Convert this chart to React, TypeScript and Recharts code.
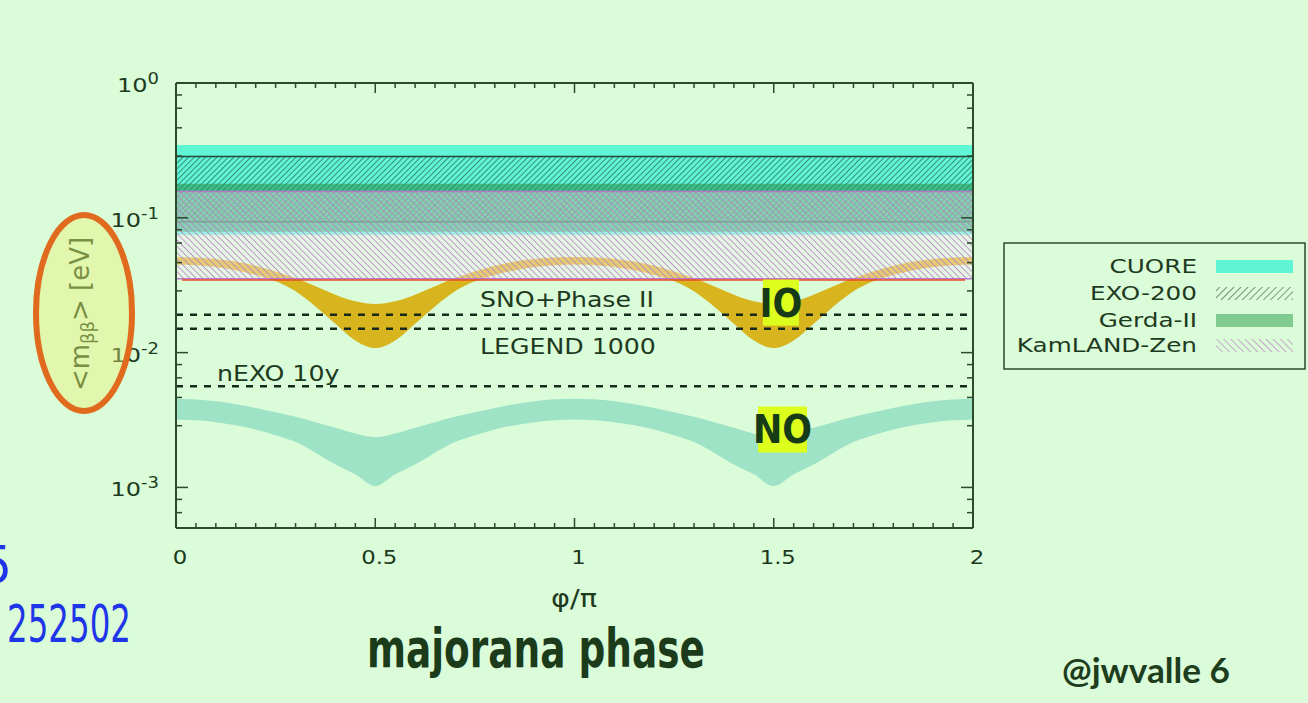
import React from "react";
import {
  ComposedChart,
  Area,
  XAxis,
  YAxis,
  ReferenceArea,
  ReferenceLine,
  ReferenceDot,
} from "recharts";

const BG = "#dafcd8";
const INK = "#1e3a1e";
const AXIS = "#2c4a2c";
const FONT = "'DejaVu Sans', Verdana, sans-serif";
const NARROW = "'Liberation Sans Narrow', 'DejaVu Sans Condensed', sans-serif";
const STRETCH = 1.2;

// Majorana phase φ/π
const phi = [
  0, 0.1, 0.2, 0.25, 0.3, 0.35, 0.4, 0.45, 0.5, 0.55, 0.6, 0.65, 0.7, 0.75, 0.8, 0.9, 1,
  1.1, 1.2, 1.25, 1.3, 1.35, 1.4, 1.45, 1.5, 1.55, 1.6, 1.65, 1.7, 1.75, 1.8, 1.9, 2,
];

// inverted ordering band [eV]
const ioHigh = [
  0.0511, 0.0494, 0.0441, 0.04, 0.0357, 0.031, 0.0269, 0.024, 0.0229, 0.024, 0.0269, 0.031,
  0.0357, 0.04, 0.0441, 0.0494, 0.0511, 0.0494, 0.0441, 0.04, 0.0357, 0.031, 0.0269, 0.024,
  0.0229, 0.024, 0.0269, 0.031, 0.0357, 0.04, 0.0441, 0.0494, 0.0511,
];
const ioLow = [
  0.0451, 0.0431, 0.0376, 0.0338, 0.0285, 0.022, 0.0164, 0.0123, 0.0108, 0.0123, 0.0164, 0.022,
  0.0285, 0.0338, 0.0376, 0.0431, 0.0451, 0.0431, 0.0376, 0.0338, 0.0285, 0.022, 0.0164, 0.0123,
  0.0108, 0.0123, 0.0164, 0.022, 0.0285, 0.0338, 0.0376, 0.0431, 0.0451,
];

// normal ordering band [eV]
const noHigh = [
  0.00454, 0.00436, 0.00389, 0.00361, 0.00334, 0.00305, 0.00277, 0.00251, 0.00236, 0.00251,
  0.00277, 0.00305, 0.00334, 0.00361, 0.00389, 0.00436, 0.00454, 0.00436, 0.00389, 0.00361,
  0.00334, 0.00305, 0.00277, 0.00251, 0.00236, 0.00251, 0.00277, 0.00305, 0.00334, 0.00361,
  0.00389, 0.00436, 0.00454,
];
const noLow = [
  0.00319, 0.00305, 0.00269, 0.00244, 0.00217, 0.00181, 0.00148, 0.00125, 0.00102, 0.00125,
  0.00148, 0.00181, 0.00217, 0.00244, 0.00269, 0.00305, 0.00319, 0.00305, 0.00269, 0.00244,
  0.00217, 0.00181, 0.00148, 0.00125, 0.00102, 0.00125, 0.00148, 0.00181, 0.00217, 0.00244,
  0.00269, 0.00305, 0.00319,
];

// current limits
const experiments = ["CUORE", "EXO-200", "Gerda-II", "KamLAND-Zen"];
const bandLow = [0.0748, 0.0934, 0.0788, 0.0353];
const bandHigh = [0.347, 0.2845, 0.1786, 0.1566];
const redLine = 0.0345;

// future sensitivities
const futureLabels = ["SNO+Phase II", "LEGEND 1000", "nEXO 10y"];
const futureValues = [0.0191, 0.015, 0.00563];

const tags = ["IO", "NO"];
const tagPhi = [1.518, 1.522];
const tagValue = [0.0235, 0.00269];

// axes
const xMajor = [0, 0.5, 1, 1.5, 2];
const xLabels = ["0", "0.5", "1", "1.5", "2"];
const xTicks = Array.from({ length: 41 }, (_, i) => Math.round(i * 5) / 100);
const yMajor = [1, 0.1, 0.01, 0.001];
const yExponents = ["0", "-1", "-2", "-3"];
const yMinorFactors = [0.815, 0.65, 0.465, 0.287];
const yTicks = [
  ...yMajor,
  ...yMajor.flatMap((d) => yMinorFactors.map((f) => d * f)).filter((v) => v >= 0.0005),
];

// styling of the limit bands
const bandFill = ["#5ff5d5", "url(#hatchExo)", "rgba(40,150,85,0.6)", "url(#hatchKam)"];
const bandStroke = ["none", "#22483a", "none", "#b77ac8"];
const legendFill = ["#5ff5d5", "url(#hatchExoL)", "#80cc90", "url(#hatchKamL)"];

const XTick = ({ x, y, payload, side }: any) => {
  const k = xMajor.indexOf(payload.value);
  const len = k >= 0 ? 10 : 5;
  const dir = side === "top" ? 1 : -1;
  return (
    <g>
      <line x1={x} x2={x} y1={y} y2={y + dir * len} stroke={AXIS} strokeWidth={1.5} />
      {side === "bottom" && k >= 0 && (
        <text
          transform={`translate(${x + 4},${y + 36}) scale(${STRETCH},1)`}
          textAnchor="middle"
          fontFamily={FONT}
          fontSize={19}
          fill={INK}
        >
          {xLabels[k]}
        </text>
      )}
    </g>
  );
};

const YTick = ({ x, y, payload, side }: any) => {
  const k = yMajor.indexOf(payload.value);
  const len = k >= 0 ? 12 : 6;
  const dir = side === "left" ? 1 : -1;
  return (
    <g>
      <line x1={x} x2={x + dir * len} y1={y} y2={y} stroke={AXIS} strokeWidth={1.5} />
      {side === "left" && k >= 0 && (
        <text
          transform={`translate(${x - 17},${y + 9}) scale(${STRETCH},1)`}
          textAnchor="end"
          fontFamily={FONT}
          fontSize={20}
          fill={INK}
        >
          10
          <tspan dy={-8} fontSize={15}>
            {yExponents[k]}
          </tspan>
        </text>
      )}
    </g>
  );
};

const FutureLabel = ({ viewBox, text, dx, dy }: any) => (
  <text
    transform={`translate(${viewBox.x + dx},${viewBox.y + dy}) scale(${STRETCH},1)`}
    fontFamily={FONT}
    fontSize={21}
    fill={INK}
  >
    {text}
  </text>
);

const Tag = ({ cx, cy, text }: any) => {
  const w = text === "IO" ? 36 : 49;
  return (
    <g>
      <rect x={cx - w / 2} y={cy - 23} width={w} height={46} fill="#dcff1e" />
      <text
        x={cx}
        y={cy + 14}
        textAnchor="middle"
        fontFamily={NARROW}
        fontWeight="bold"
        fontSize={39}
        fill="#173a17"
      >
        {text}
      </text>
    </g>
  );
};

export default function App() {
  const data = phi.map((p, i) => ({
    phi: p,
    io: [ioLow[i], ioHigh[i]],
    no: [noLow[i], noHigh[i]],
  }));
  const labelDx = [304, 304, 41];
  const labelDy = [-8, 25, -5];
  const legendY = [273, 300, 327, 352];

  return (
    <div
      style={{
        position: "absolute",
        left: 0,
        top: 0,
        width: 1308,
        height: 703,
        background: BG,
        overflow: "hidden",
      }}
    >
      <svg width={0} height={0} style={{ position: "absolute" }}>
        <defs>
          <pattern id="hatchExo" patternUnits="userSpaceOnUse" width={4} height={4} patternTransform="rotate(45)">
            <line x1={0} y1={0} x2={0} y2={4} stroke="#1f4a38" strokeWidth={1.2} />
          </pattern>
          <pattern id="hatchKam" patternUnits="userSpaceOnUse" width={4.5} height={4.5} patternTransform="rotate(-45)">
            <rect width={4.5} height={4.5} fill="rgba(242,236,242,0.4)" />
            <line x1={0} y1={0} x2={0} y2={4.5} stroke="#b87cc4" strokeWidth={1.5} />
          </pattern>
          <pattern id="hatchExoL" patternUnits="userSpaceOnUse" width={5} height={5} patternTransform="rotate(45)">
            <line x1={0} y1={0} x2={0} y2={5} stroke="#4a5a4a" strokeWidth={1.3} />
          </pattern>
          <pattern id="hatchKamL" patternUnits="userSpaceOnUse" width={5} height={5} patternTransform="rotate(-45)">
            <line x1={0} y1={0} x2={0} y2={5} stroke="#c08ac8" strokeWidth={1.5} />
          </pattern>
        </defs>
      </svg>

      <div style={{ position: "absolute", left: 0, top: 0 }}>
        <ComposedChart
          width={1308}
          height={703}
          data={data}
          margin={{ top: 73, right: 325, bottom: 135, left: 116 }}
        >
          <XAxis
            dataKey="phi"
            type="number"
            domain={[0, 2]}
            allowDataOverflow
            ticks={xTicks}
            interval={0}
            tick={<XTick side="bottom" />}
            tickLine={false}
            tickSize={0}
            tickMargin={0}
            height={40}
            axisLine={{ stroke: AXIS, strokeWidth: 2 }}
          />
          <XAxis
            xAxisId="t"
            dataKey="phi"
            orientation="top"
            type="number"
            domain={[0, 2]}
            allowDataOverflow
            ticks={xTicks}
            interval={0}
            tick={<XTick side="top" />}
            tickLine={false}
            tickSize={0}
            tickMargin={0}
            height={10}
            axisLine={{ stroke: AXIS, strokeWidth: 2 }}
          />
          <YAxis
            type="number"
            scale="log"
            domain={[0.0005, 1]}
            allowDataOverflow
            ticks={yTicks}
            interval={0}
            tick={<YTick side="left" />}
            tickLine={false}
            tickSize={0}
            tickMargin={0}
            width={60}
            axisLine={{ stroke: AXIS, strokeWidth: 2 }}
          />
          <YAxis
            yAxisId="r"
            orientation="right"
            type="number"
            scale="log"
            domain={[0.0005, 1]}
            allowDataOverflow
            ticks={yTicks}
            interval={0}
            tick={<YTick side="right" />}
            tickLine={false}
            tickSize={0}
            tickMargin={0}
            width={10}
            axisLine={{ stroke: AXIS, strokeWidth: 2 }}
          />

          {experiments.slice(0, 3).map((name, i) => (
            <ReferenceArea
              key={name}
              y1={bandLow[i]}
              y2={bandHigh[i]}
              fill={bandFill[i]}
              fillOpacity={1}
              stroke={bandStroke[i]}
              strokeWidth={1.5}
            />
          ))}

          <Area
            dataKey="no"
            type="monotone"
            fill="#9fe3c7"
            fillOpacity={1}
            stroke="none"
            isAnimationActive={false}
          />
          <Area
            dataKey="io"
            type="monotone"
            fill="#d8b41e"
            fillOpacity={1}
            stroke="none"
            isAnimationActive={false}
          />

          <ReferenceArea
            y1={bandLow[3]}
            y2={bandHigh[3]}
            fill={bandFill[3]}
            fillOpacity={1}
            stroke={bandStroke[3]}
            strokeWidth={1.5}
          />
          <ReferenceLine
            segment={[
              { x: 0.015, y: redLine },
              { x: 1.98, y: redLine },
            ]}
            stroke="#ec4a28"
            strokeWidth={1.5}
          />

          {futureLabels.map((name, i) => (
            <ReferenceLine
              key={name}
              y={futureValues[i]}
              stroke="#17291a"
              strokeWidth={2.5}
              strokeDasharray="7 7"
              label={<FutureLabel text={name} dx={labelDx[i]} dy={labelDy[i]} />}
            />
          ))}

          {tags.map((t, i) => (
            <ReferenceDot
              key={t}
              x={tagPhi[i]}
              y={tagValue[i]}
              r={0}
              shape={(p: any) => <Tag cx={p.cx} cy={p.cy} text={t} />}
            />
          ))}
        </ComposedChart>
      </div>

      <svg
        width={1308}
        height={703}
        style={{ position: "absolute", left: 0, top: 0, pointerEvents: "none" }}
      >
        <text
          transform={`translate(574,607) scale(${STRETCH},1)`}
          textAnchor="middle"
          fontFamily={FONT}
          fontSize={24}
          fill={INK}
        >
          φ/π
        </text>

        <text
          transform="translate(89,314) rotate(-90)"
          textAnchor="middle"
          fontFamily={FONT}
          fontSize={26}
          fill="#2e4e26"
        >
          {"<m"}
          <tspan dy={5} fontSize={18}>
            ββ
          </tspan>
          <tspan dy={-5}>{"> [eV]"}</tspan>
        </text>
        <ellipse
          cx={84}
          cy={313}
          rx={48}
          ry={98}
          fill="rgba(235,240,110,0.4)"
          stroke="#e06b1f"
          strokeWidth={6}
        />

        <rect x={1004} y={243} width={301} height={126} fill="none" stroke={AXIS} strokeWidth={1.5} />
        {experiments.map((name, i) => (
          <g key={name}>
            <text
              transform={`translate(1197,${legendY[i]}) scale(1.3,1)`}
              textAnchor="end"
              fontFamily={FONT}
              fontSize={19}
              fill={INK}
            >
              {name}
            </text>
            <rect x={1216} y={legendY[i] - 13} width={77} height={13} fill={legendFill[i]} />
          </g>
        ))}

        <text x={-18} y={583} fontFamily={NARROW} fontSize={52} fill="#1f35e8">
          5
        </text>
        <text
          x={7}
          y={642}
          fontFamily={NARROW}
          fontSize={52}
          fill="#1f35e8"
          textLength={124}
          lengthAdjust="spacingAndGlyphs"
        >
          252502
        </text>
        <text
          x={367}
          y={667}
          fontFamily={NARROW}
          fontWeight="bold"
          fontSize={54}
          fill="#1b3b1b"
          textLength={338}
          lengthAdjust="spacingAndGlyphs"
        >
          majorana phase
        </text>
        <text
          x={1062}
          y={683}
          fontFamily="Lato, 'Open Sans', sans-serif"
          fontWeight="bold"
          fontSize={34}
          fill="#1d3d1d"
          textLength={168}
          lengthAdjust="spacingAndGlyphs"
        >
          @jwvalle 6
        </text>
      </svg>
    </div>
  );
}
